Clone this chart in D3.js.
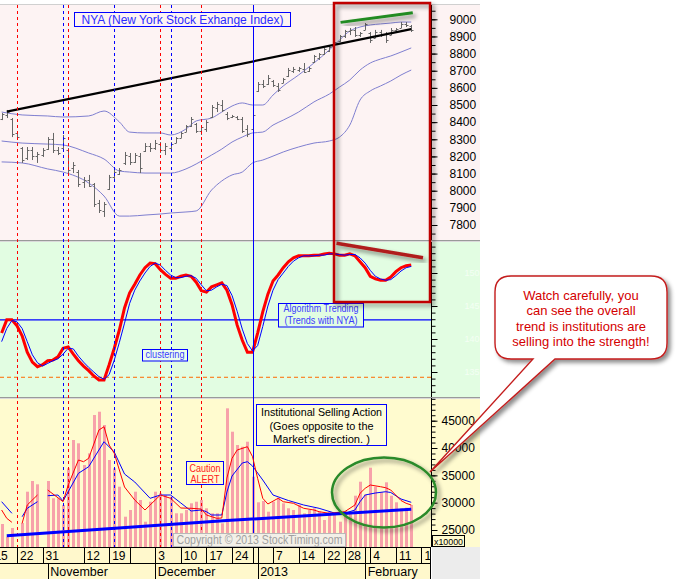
<!DOCTYPE html>
<html lang="en">
<head>
<meta charset="UTF-8">
<title>NYA - Institutional Selling Action</title>
<script src="https://d3js.org/d3.v7.min.js"></script>
<style>
  body { margin: 0; background: #fff; font-family: "Liberation Sans", Arial, sans-serif; }
  svg { display: block; }
</style>
</head>
<body>
<div id="chart"></div>
<script>
// ---- data (bar index 0 = Oct 22 2012, one index per trading day) ----
const firstBar = -3;

const nyaOpen = [8420,8440,8420,8335,8250,8190,8240,8200,8210,8245,
  8300,8235,8250,8240,8130,8110,8050,8060,8040,7930,
  7880,8010,8080,8100,8160,8200,8170,8200,8230,8260,
  8250,8270,8240,8250,8280,8310,8345,8380,8390,8350,
  8360,8430,8480,8500,8450,8430,8430,8420,8360,8360,
  8580,8620,8620,8640,8610,8630,8670,8700,8705,8710,
  8700,8750,8775,8800,8815,8845,8875,8900,8930,8940,
  8910,8940,8920,8890,8925,8915,8910,8935,8950,8970,
  8960];
const nyaHigh = [8453,8471,8424,8343,8255,8255,8255,8226,8249,8313,
  8337,8255,8325,8249,8167,8121,8080,8092,8045,7946,
  7934,8092,8121,8132,8226,8220,8220,8220,8278,8278,
  8296,8284,8278,8284,8313,8343,8383,8430,8395,8383,
  8412,8500,8518,8529,8459,8442,8436,8430,8383,8453,
  8634,8646,8675,8646,8628,8658,8716,8722,8722,8745,
  8722,8792,8803,8833,8850,8879,8908,8938,8949,8955,
  8926,8978,8926,8938,8938,8926,8949,8949,8984,8984,
  8967];
const nyaLow = [8412,8424,8313,8308,8162,8179,8179,8162,8197,8238,
  8220,8208,8238,8103,8103,8022,8016,8022,7905,7870,
  7847,8004,8051,8092,8150,8150,8162,8103,8226,8226,
  8238,8220,8208,8226,8278,8308,8343,8372,8337,8325,
  8343,8424,8459,8459,8412,8424,8412,8337,8313,8354,
  8576,8599,8617,8605,8576,8628,8663,8687,8693,8687,
  8693,8745,8763,8792,8809,8838,8868,8891,8908,8897,
  8897,8938,8862,8891,8897,8862,8908,8920,8949,8955,
  8926];
const nyaClose = [8445,8460,8330,8315,8180,8240,8200,8215,8240,8300,
  8240,8220,8310,8120,8150,8040,8060,8030,7920,7890,
  7920,8080,8110,8120,8210,8170,8210,8130,8260,8250,
  8280,8240,8260,8275,8305,8335,8375,8420,8350,8370,
  8400,8490,8505,8470,8425,8435,8420,8350,8330,8440,
  8620,8610,8660,8615,8590,8650,8705,8710,8715,8690,
  8715,8785,8795,8825,8840,8870,8900,8930,8940,8910,
  8920,8970,8880,8925,8915,8880,8940,8945,8975,8965,
  8940];

// bollinger-style bands, read at these bar indices
const bandIdx = [-3,1,6,9,14,17,20,22,25,28,30,33,35,38,40,42,44,46,48,50,52,55,58,61,63,65,67,69,71,73,75,77];
const bandUpper = [8459,8442,8436,8430,8436,8465,8401,8342,8337,8337,8325,8360,8407,8424,8459,8494,8512,8500,8500,8558,8611,8675,8745,8821,8879,8932,8955,8967,8973,8978,8984,8984];
const bandMid = [8290,8278,8272,8267,8220,8185,8115,8109,8103,8103,8103,8127,8156,8208,8243,8284,8313,8337,8342,8383,8412,8459,8518,8564,8605,8646,8704,8745,8768,8786,8809,8833];
const bandLower = [8168,8162,8127,8109,8045,7969,7852,7852,7858,7864,7870,7876,7882,8004,8057,8092,8109,8162,8179,8202,8226,8255,8278,8290,8313,8383,8529,8582,8611,8640,8675,8704];

const nyaTrendIdx = [-2, 77];
const nyaTrendVal = [8461, 8943];

// algorithm trending oscillator
const algoRed = [140.9,142.9,142.9,142.0,140.5,138.0,136.5,135.8,136.1,136.7,
  136.8,137.3,138.6,138.8,137.7,136.7,135.9,135.2,134.4,133.8,
  133.8,136.1,138.6,141.4,144.7,147.0,148.3,149.7,150.8,151.5,
  151.4,150.5,149.8,149.2,149.2,149.5,149.7,149.5,148.6,147.3,
  147.1,147.9,148.2,148.5,147.4,145.2,142.1,139.8,138.0,138.0,
  140.9,144.1,146.8,148.8,149.7,150.8,151.7,152.3,152.6,152.6,
  152.6,152.7,152.7,152.9,153.0,152.9,152.7,152.7,152.9,152.6,
  151.7,150.8,149.5,149.1,148.9,148.9,149.4,150.2,150.8,151.1,
  151.2];
const algoBlue = [139.6,141.6,142.8,142.6,141.6,139.6,137.6,136.4,135.9,136.3,
  136.7,137.0,137.7,138.6,138.5,137.4,136.5,135.7,135.0,134.3,
  133.9,134.6,136.8,139.5,142.4,145.4,147.4,148.8,150.0,151.0,
  151.5,151.2,150.4,149.7,149.3,149.3,149.5,149.6,149.2,148.2,
  147.3,147.4,147.9,148.3,148.1,146.6,144.2,141.5,139.3,138.2,
  139.0,141.9,145.0,147.4,149.0,150.0,151.0,151.8,152.3,152.6,
  152.6,152.6,152.7,152.7,152.9,152.9,152.8,152.7,152.8,152.8,
  152.3,151.5,150.4,149.5,149.1,148.9,149.0,149.6,150.3,150.8,
  151.0];
const algoLevelHigh = 142.9;
const algoLevelLow = 134.2;

// institutional selling action
const instBars = [26098,23774,25366,null,26281,32007,33965,33361,null,33965,
  30800,30800,29574,36288,41466,40862,36892,39032,46039,46643,
  44210,37807,36288,32922,27433,28659,32007,30489,26519,30178,
  32007,31714,31403,31092,28055,28055,28659,29885,30178,30489,
  28970,28055,28055,26226,47265,42984,40551,40240,41155,34751,
  30068,30306,28348,30178,30909,29885,28970,28659,29574,28055,
  28659,28970,28348,26830,28348,27744,26519,28476,28055,31275,
  33836,31531,36398,32922,31897,33727,31275,30068,28970,29080,
  29574];
const instRedIdx = [-3,-2,-1,0,1,2,4,5,6,9,10,12,13,14,16,17,18,19,21,23,25,27,28,30,32,34,36,37,39,40,41,42,43,45,46,47,48,49,51,52,54,56,58,59,61,64,66,67,68,69,71,72,73,75,76,77];
const instRedVal = [28659,27141,26409,null,26226,29574,31403,null,32318,30178,33233,37807,37496,38118,43295,43899,40551,39032,32867,30489,28659,30489,31403,30800,29025,28970,28842,27744,27141,27195,34513,38118,39636,40240,38410,34459,30800,29757,30800,30178,29885,28970,28659,28348,28055,28348,29574,31714,32629,33233,32922,32739,32318,30397,29885,29574];
const instBlueIdx = [-3,-1,0,1,2,4,5,6,8,9,10,12,14,16,17,19,21,23,26,28,30,32,34,36,37,38,40,41,42,44,45,46,48,50,53,56,59,62,64,66,67,68,70,72,73,75,77];
const instBlueVal = [30178,28055,null,27433,28970,30178,null,31275,31403,30306,32007,35373,36581,39636,41155,39270,35245,33782,30800,31403,31403,29940,28476,28659,28348,27744,27744,31952,34879,37258,37496,36709,34148,31403,30397,29574,28970,28110,28055,28659,30178,31403,31769,32007,31861,30672,30068];
const instTrendIdx = [-2, 41, 77];
const instTrendVal = [23957, 26720, 28787];

// event markers (bar indices)
const redDashIdx = [0, 10, 28, 36];
const blueDashIdx = [9, 19, 30];
const blueSolidIdx = [46];

// date axis
const tickIdx = [-5, 0, 5, 13, 18, 27, 32, 37, 42, 50, 55, 60, 64, 69, 74, 79];
const tickLabels = ["15","22","31","12","19","3","10","17","24","7","14","22","28","4","11","19"];
const plainSepIdx = [22, 46, 47, 68];
const monthIdx = [6, 27, 47, 68];
const monthLabels = ["November", "December", "2013", "February"];

// axis ticks
const nyaTicks = d3.range(7800, 9001, 100);
const nyaMinor = d3.range(7750, 9051, 50);
const algoTicks = [135, 140, 145, 150];
const algoMinor = d3.range(132, 155, 1);
const instTicks = [25000, 30000, 35000, 40000, 45000];
const instMinor = d3.range(23000, 49001, 1000);

// ---- layout ----
const W = 678, H = 579;
const plotRight = 431, bgRight = 480;
const P1 = { top: 5, bottom: 239 }, P2 = { top: 242, bottom: 396 }, P3 = { top: 398, bottom: 546 };

const x = d3.scaleLinear().domain([0, 79]).range([17, 17 + 79 * 5.12]);
const yTop = d3.scaleLinear().domain([7800, 9000]).range([225, 19.3]);
const yMid = d3.scaleLinear().domain([135, 150]).range([372, 273]);
const yBot = d3.scaleLinear().domain([25000, 45000]).range([530, 420.7]);

const svg = d3.select("#chart").append("svg").attr("width", W).attr("height", H)
  .style("font-family", '"Liberation Sans", Arial, sans-serif');
const defs = svg.append("defs");
defs.append("filter").attr("id", "shadow").attr("x", "-20%").attr("y", "-20%")
  .attr("width", "150%").attr("height", "150%")
  .append("feDropShadow").attr("dx", 3).attr("dy", 3).attr("stdDeviation", 2.2)
  .attr("flood-color", "#000").attr("flood-opacity", 0.45);

[["c1", P1], ["c2", P2], ["c3", P3]].forEach(([id, p]) => {
  defs.append("clipPath").attr("id", id).append("rect")
    .attr("x", 0).attr("y", p.top).attr("width", plotRight).attr("height", p.bottom - p.top + 1);
});
defs.append("clipPath").attr("id", "cdate").append("rect")
  .attr("x", 0).attr("y", 547).attr("width", 430).attr("height", 32);

// backgrounds
svg.append("rect").attr("x", 0).attr("y", 0).attr("width", W).attr("height", H).attr("fill", "#fff");
svg.append("rect").attr("x", 0).attr("y", P1.top).attr("width", bgRight).attr("height", 235).attr("fill", "#fdf3f3");
svg.append("rect").attr("x", 0).attr("y", P2.top).attr("width", bgRight).attr("height", 155).attr("fill", "#e2fde2");
svg.append("rect").attr("x", 0).attr("y", P3.top).attr("width", bgRight).attr("height", 149).attr("fill", "#fffbcf");
svg.append("rect").attr("x", 0).attr("y", 547).attr("width", plotRight).attr("height", 32).attr("fill", "#fff8cc");
svg.append("rect").attr("x", 432).attr("y", 547).attr("width", bgRight - 432).attr("height", 32).attr("fill", "#ececec");

[[4, "#d0d0d0"], [240, "#9a9a9a"], [241, "#dadada"], [397, "#9a9a9a"], [398, "#dadada"]].forEach(([yy, c]) => {
  svg.append("line").attr("x1", 0).attr("x2", bgRight).attr("y1", yy + 0.5).attr("y2", yy + 0.5)
    .attr("stroke", c);
});

// ---- top panel: NYA ----
const g1 = svg.append("g").attr("clip-path", "url(#c1)");
const bandLine = d3.line().x((d, i) => x(bandIdx[i])).y(d => yTop(d)).curve(d3.curveMonotoneX);
[bandUpper, bandMid, bandLower].forEach(b => {
  g1.append("path").attr("d", bandLine(b)).attr("fill", "none").attr("stroke", "#7f7fd0").attr("stroke-width", 1);
});

const ohlc = g1.append("g").attr("stroke", "#666").attr("stroke-width", 1);
nyaHigh.forEach((h, k) => {
  const xi = Math.round(x(firstBar + k)) + 0.5;
  const yo = Math.round(yTop(nyaOpen[k])) + 0.5, yc = Math.round(yTop(nyaClose[k])) + 0.5;
  ohlc.append("line").attr("x1", xi).attr("x2", xi).attr("y1", yTop(h)).attr("y2", yTop(nyaLow[k]));
  ohlc.append("line").attr("x1", xi - 2).attr("x2", xi).attr("y1", yo).attr("y2", yo);
  ohlc.append("line").attr("x1", xi).attr("x2", xi + 2).attr("y1", yc).attr("y2", yc);
});

g1.append("path")
  .attr("d", d3.line().x((d, i) => x(nyaTrendIdx[i])).y(d => yTop(d))(nyaTrendVal))
  .attr("stroke", "#000").attr("stroke-width", 2.2).attr("fill", "none");

// ---- middle panel: algorithm trending ----
const g2 = svg.append("g").attr("clip-path", "url(#c2)");
g2.append("line").attr("x1", 0).attr("x2", plotRight).attr("y1", yMid(algoLevelHigh)).attr("y2", yMid(algoLevelHigh))
  .attr("stroke", "#0000ff").attr("stroke-width", 1.2);
g2.append("line").attr("x1", 0).attr("x2", plotRight).attr("y1", yMid(algoLevelLow)).attr("y2", yMid(algoLevelLow))
  .attr("stroke", "#ff6a00").attr("stroke-dasharray", "4,3");

const algoLine = d3.line().x((d, i) => x(firstBar + i)).y(d => yMid(d));
g2.append("path").attr("d", algoLine(algoRed)).attr("fill", "none").attr("stroke", "#ff0000").attr("stroke-width", 3);
g2.append("path").attr("d", algoLine(algoBlue)).attr("fill", "none").attr("stroke", "#0000ff").attr("stroke-width", 1);

// ---- bottom panel: institutional selling ----
const g3 = svg.append("g").attr("clip-path", "url(#c3)");
instBars.forEach((v, k) => {
  if (v == null) return;
  g3.append("rect").attr("x", Math.round(x(firstBar + k)) - 1).attr("y", yBot(v))
    .attr("width", 3).attr("height", P3.bottom + 1 - yBot(v)).attr("fill", "#f7a1aa");
});

// event markers across all panels
const marks = svg.append("g");
const markLine = (i, color, dash) => {
  const xx = Math.round(x(i)) + 0.5;
  const l = marks.append("line").attr("x1", xx).attr("x2", xx).attr("y1", 5).attr("y2", 547).attr("stroke", color);
  if (dash) l.attr("stroke-dasharray", "3,3");
};
redDashIdx.forEach(i => markLine(i, "#ff0000", true));
blueDashIdx.forEach(i => markLine(i, "#0000ff", true));
blueSolidIdx.forEach(i => markLine(i, "#0000ff", false));

const g3b = svg.append("g").attr("clip-path", "url(#c3)");
const instLine = (idx) => d3.line().defined(d => d != null).x((d, i) => x(idx[i])).y(d => yBot(d));
g3b.append("path").attr("d", instLine(instBlueIdx)(instBlueVal)).attr("fill", "none").attr("stroke", "#0000ff");
g3b.append("path").attr("d", instLine(instRedIdx)(instRedVal)).attr("fill", "none").attr("stroke", "#ff0000");
g3b.append("path").attr("d", instLine(instTrendIdx)(instTrendVal)).attr("fill", "none")
  .attr("stroke", "#0000ff").attr("stroke-width", 3);

// ---- label boxes ----
function labelBox(bx, by, bw, bh, fill, lines, opts) {
  const g = svg.append("g");
  g.append("rect").attr("x", bx + 0.5).attr("y", by + 0.5).attr("width", bw).attr("height", bh)
    .attr("fill", fill).attr("stroke", opts.stroke || "#0000ff");
  lines.forEach(l => {
    const t = g.append("text").attr("x", bx + bw / 2 + 0.5).attr("y", l.y).attr("text-anchor", "middle")
      .attr("font-size", opts.size).attr("fill", opts.color).text(l.text);
    if (l.len) t.attr("textLength", l.len).attr("lengthAdjust", "spacingAndGlyphs");
  });
}
labelBox(74, 12, 216, 14, "#fdf3f3", [{ text: "NYA (New York Stock Exhange Index)", y: 23.5 }], { size: 12, color: "#2b2bff" });
labelBox(142, 349, 45, 11.5, "#ecfdec", [{ text: "clustering", y: 358, len: 39 }], { size: 11, color: "#3a3aff" });
labelBox(278, 303, 85, 23.5, "#e2fde2", [
  { text: "Algorithm Trending", y: 311.5, len: 75 },
  { text: "(Trends with NYA)", y: 323.5, len: 73 }], { size: 11, color: "#3a3aff" });
labelBox(256, 404, 130, 41, "#fffcd8", [
  { text: "Institutional Selling Action", y: 415.5, len: 121 },
  { text: "(Goes opposite to the", y: 429.5, len: 104 },
  { text: "Market's direction. )", y: 443, len: 97 }], { size: 11, color: "#000" });
labelBox(186, 461, 37, 23, "#fffbcf", [
  { text: "Caution", y: 471.5, len: 31 },
  { text: "ALERT", y: 483, len: 29 }], { size: 11, color: "#ff2020" });
labelBox(173, 533, 172, 13, "#f3f0e8", [{ text: "Copyright \u00a9 2013 StockTiming.com", y: 543.5, len: 166 }],
  { size: 12, color: "#a0a0a0", stroke: "#b8b8b8" });

// ---- right axes ----
function rightAxis(scale, major, minor, p, fmt, size, color, pad) {
  const g = svg.append("g").attr("transform", `translate(${plotRight + 0.5},0)`);
  g.append("line").attr("x1", 0).attr("x2", 0).attr("y1", p.top).attr("y2", p.bottom + 1).attr("stroke", "#000");
  const mg = g.append("g").call(d3.axisRight(scale).tickValues(minor.filter(v => scale(v) > p.top && scale(v) < p.bottom))
    .tickSize(4).tickFormat(""));
  mg.select(".domain").remove();
  const ag = g.append("g").call(d3.axisRight(scale).tickValues(major).tickSize(6).tickPadding(pad).tickFormat(fmt));
  ag.select(".domain").remove();
  ag.selectAll("text").attr("font-size", size).attr("fill", color)
    .attr("font-family", '"Liberation Sans", Arial, sans-serif');
  g.selectAll(".tick line").attr("stroke", "#000");
}
rightAxis(yTop, nyaTicks, nyaMinor, P1, d3.format("d"), 12, "#000", 12);
rightAxis(yMid, algoTicks, algoMinor, P2, d3.format("d"), 9, "#f4fff4", 27);
rightAxis(yBot, instTicks, instMinor, P3, d3.format("d"), 12, "#000", 4);

// multiplier box sits over the lowest label, as in the source chart
svg.append("rect").attr("x", 432.5).attr("y", 535.5).attr("width", 32).attr("height", 11)
  .attr("fill", "#fffbcf").attr("stroke", "#000");
svg.append("text").attr("x", 448.5).attr("y", 544.5).attr("text-anchor", "middle").attr("font-size", 9.5)
  .attr("textLength", 29).attr("lengthAdjust", "spacingAndGlyphs").text("x10000");

// ---- date axis ----
const dg = svg.append("g");
dg.append("line").attr("x1", 0).attr("x2", plotRight).attr("y1", 547.5).attr("y2", 547.5).attr("stroke", "#000");
dg.append("line").attr("x1", 0).attr("x2", plotRight).attr("y1", 563.5).attr("y2", 563.5).attr("stroke", "#000");
dg.append("line").attr("x1", 430.5).attr("x2", 430.5).attr("y1", 547).attr("y2", 579).attr("stroke", "#000");
tickIdx.concat(plainSepIdx).forEach(i => {
  const xx = Math.round(x(i)) + 0.5;
  dg.append("line").attr("x1", xx).attr("x2", xx).attr("y1", 547).attr("y2", 563).attr("stroke", "#000");
});
const dlab = dg.append("g").attr("clip-path", "url(#cdate)");
tickIdx.forEach((i, k) => {
  dlab.append("text").attr("x", x(i) + 3).attr("y", 560).attr("font-size", 12).attr("fill", "#000").text(tickLabels[k]);
});
monthIdx.forEach((i, k) => {
  const xx = Math.round(x(i)) + 0.5;
  dg.append("line").attr("x1", xx).attr("x2", xx).attr("y1", 563).attr("y2", 579).attr("stroke", "#000");
  dlab.append("text").attr("x", x(i) + 2.5).attr("y", 576).attr("font-size", 12.5).attr("fill", "#000").text(monthLabels[k]);
});

// ---- annotations ----
const ann = svg.append("g");
ann.append("rect").attr("x", 334).attr("y", 3).attr("width", 96).attr("height", 299)
  .attr("fill", "none").attr("stroke", "#c00000").attr("stroke-width", 2.5).attr("filter", "url(#shadow)");
ann.append("line").attr("x1", x(63.2)).attr("y1", yTop(8982)).attr("x2", x(77.3)).attr("y2", yTop(9038))
  .attr("stroke", "#228b22").attr("stroke-width", 3).attr("filter", "url(#shadow)");
ann.append("line").attr("x1", x(62.4)).attr("y1", yMid(154.5)).attr("x2", x(79.3)).attr("y2", yMid(152.3))
  .attr("stroke", "#b01c1c").attr("stroke-width", 3.5).attr("filter", "url(#shadow)");
ann.append("ellipse").attr("cx", 384).attr("cy", 492.5).attr("rx", 52).attr("ry", 35)
  .attr("fill", "none").attr("stroke", "#2a8a2a").attr("stroke-width", 2.5).attr("filter", "url(#shadow)");

ann.append("path")
  .attr("d", "M511,276 H651 Q667,276 667,292 V343 Q667,359 651,359 H555 L430,472 L533,359 H511 Q495,359 495,343 V292 Q495,276 511,276 Z")
  .attr("fill", "#fff").attr("stroke", "#c41e1e").attr("stroke-width", 1.4).attr("filter", "url(#shadow)");
const calloutLines = ["Watch carefully, you", "can see the overall", "trend is institutions are", "selling into the strength!"];
calloutLines.forEach((t, k) => {
  ann.append("text").attr("x", 581).attr("y", 299.5 + k * 15.6).attr("text-anchor", "middle")
    .attr("font-size", 13).attr("fill", "#d40000").text(t);
});
</script>
</body>
</html>
